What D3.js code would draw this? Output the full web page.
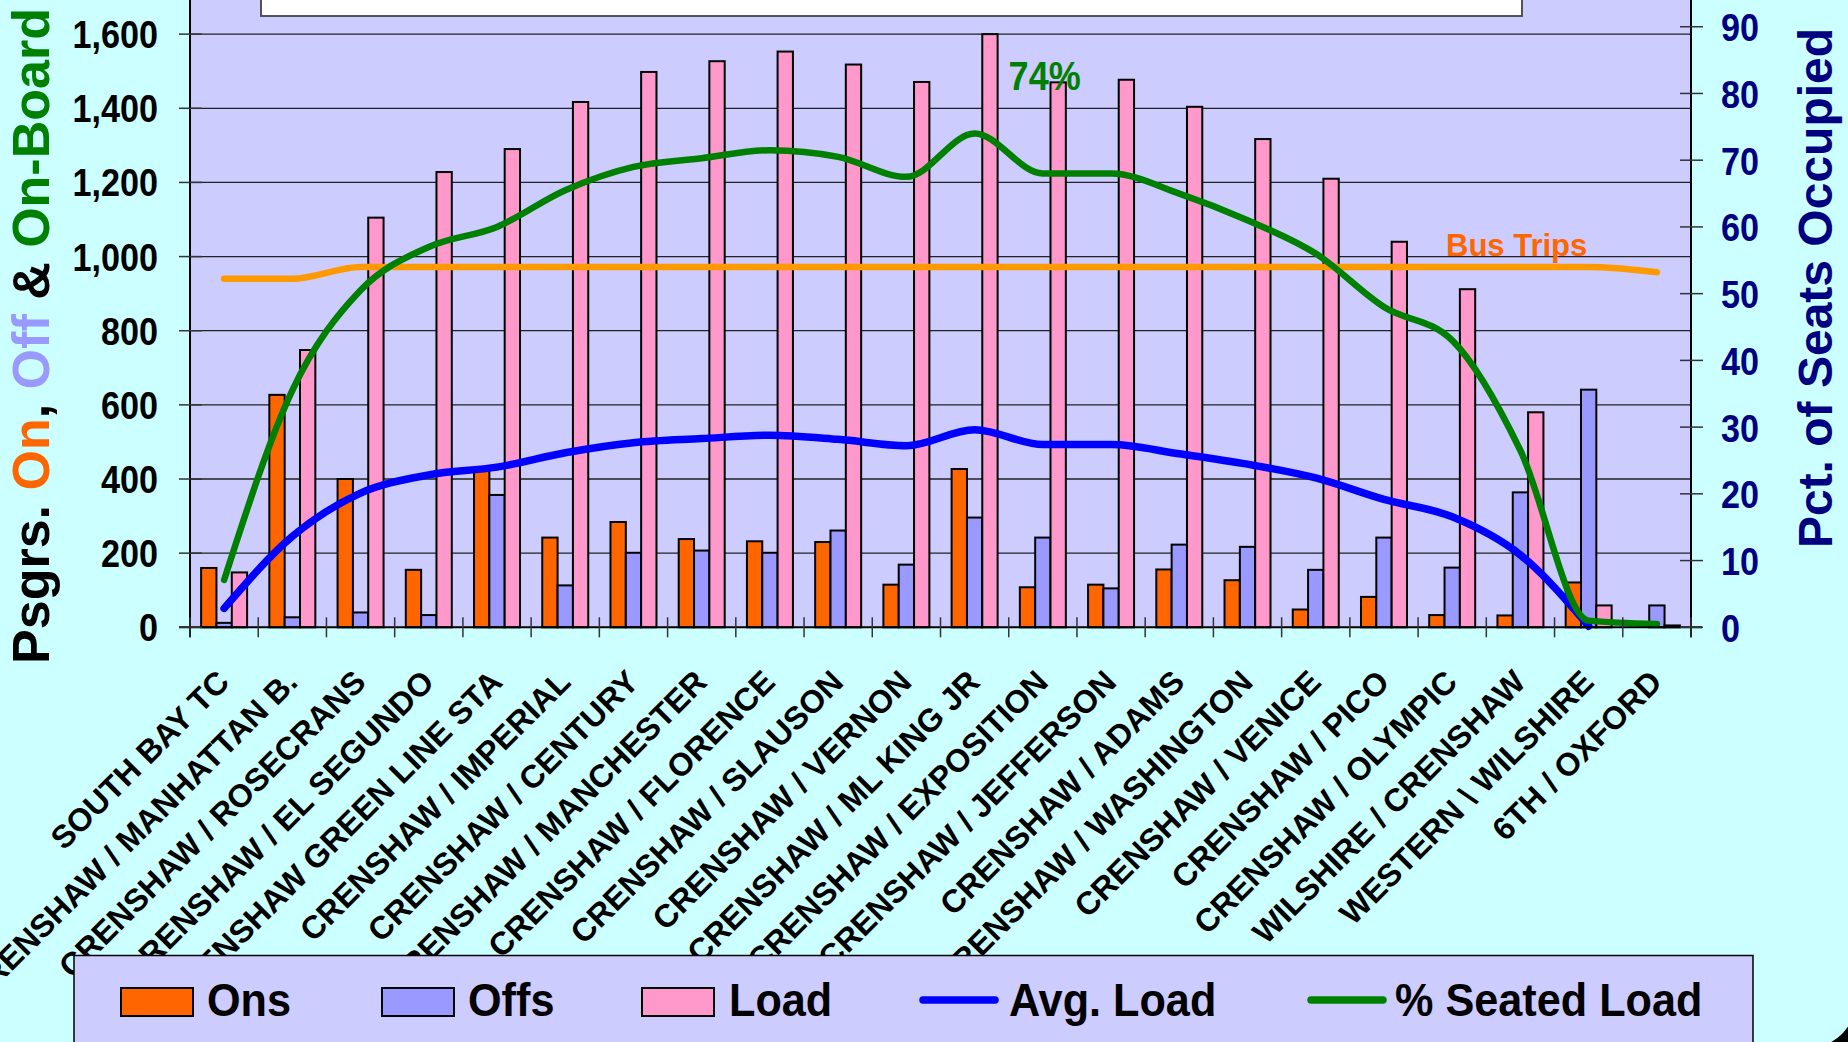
<!DOCTYPE html>
<html>
<head>
<meta charset="utf-8">
<script src="https://cdn.jsdelivr.net/npm/d3@7/dist/d3.min.js"></script>
<style>
  html, body { margin: 0; padding: 0; background: #000; overflow: hidden; }
  svg { display: block; }
  text { font-family: "Liberation Sans", Arial, sans-serif; font-weight: bold; }
</style>
</head>
<body>
<svg id="chart" width="1848" height="1042"></svg>
<script>
// ---------------- DATA ----------------
const categories = [
  "SOUTH BAY TC", "CRENSHAW / MANHATTAN B.", "CRENSHAW / ROSECRANS", "CRENSHAW / EL SEGUNDO",
  "CRENSHAW GREEN LINE STA", "CRENSHAW / IMPERIAL", "CRENSHAW / CENTURY", "CRENSHAW / MANCHESTER",
  "CRENSHAW / FLORENCE", "CRENSHAW / SLAUSON", "CRENSHAW / VERNON", "CRENSHAW / ML KING JR",
  "CRENSHAW / EXPOSITION", "CRENSHAW / JEFFERSON", "CRENSHAW / ADAMS", "CRENSHAW / WASHINGTON",
  "CRENSHAW / VENICE", "CRENSHAW / PICO", "CRENSHAW / OLYMPIC", "WILSHIRE / CRENSHAW",
  "WESTERN \\ WILSHIRE", "6TH / OXFORD"
];
const ons  = [160, 627, 400, 155, 430, 242, 284, 238, 232, 230, 115, 427, 108, 115, 156, 127, 48, 82, 33, 32, 121, 0];
const offs = [12, 27, 40, 33, 357, 113, 201, 207, 201, 261, 169, 296, 242, 105, 223, 217, 155, 242, 161, 364, 641, 59];
const load = [148, 748, 1105, 1228, 1290, 1417, 1498, 1527, 1553, 1518, 1471, 1600, 1470, 1477, 1404, 1317, 1210, 1040, 912, 580, 59, 5];
const avgLoad = [51, 245, 362, 411, 432, 471, 498, 509, 518, 507, 490, 533, 493, 493, 468, 440, 403, 345, 298, 195, 3];
const pctSeated = [7.1, 35.5, 50.5, 57, 60, 65.5, 69, 70.3, 71.5, 70.5, 67.5, 74, 68, 68, 65, 61, 56, 48, 43, 26.5, 1, 0.5];
const busTrips = [940, 940, 972, 972, 972, 972, 972, 972, 972, 972, 972, 972, 972, 972, 972, 972, 972, 972, 972, 972, 972, 958];
const leftTicks = [0, 200, 400, 600, 800, 1000, 1200, 1400, 1600];
const rightTicks = [0, 10, 20, 30, 40, 50, 60, 70, 80, 90];
const peakLabel = "74%";

// ---------------- LAYOUT ----------------
const W = 1848, H = 1042;
const plot = { left: 190, right: 1691, top: -40, bottom: 627.3 };
const C = {
  chartBg: "#CCFFFF", plotBg: "#CCCCFF", ons: "#FF6600", offs: "#9999FF", load: "#FF99CC",
  avg: "#0000FF", pct: "#008000", bus: "#FF9900", busText: "#FF6600", navy: "#000080"
};
const condense = 0.9;

const svg = d3.select("#chart");

// chart background with rounded bottom-right corner
svg.append("rect").attr("x", 0).attr("y", 0).attr("width", W).attr("height", H).attr("fill", "#000");
svg.append("rect").attr("x", -80).attr("y", -80).attr("width", 1856 + 80).attr("height", 1048 + 80)
  .attr("rx", 48).attr("ry", 48).attr("fill", C.chartBg);

// scales
const x = d3.scaleBand().domain(categories).range([plot.left, plot.right]).paddingInner(0).paddingOuter(0);
const bw = x.bandwidth();
const xs = d3.scaleBand().domain(["ons", "offs", "load"]).range([bw * 0.163, bw * 0.837]).padding(0);
const yL = d3.scaleLinear().domain([0, 1800]).range([plot.bottom, plot.top]);
const yR = d3.scaleLinear().domain([0, 100]).range([plot.bottom, plot.top]);
const cx = i => x(categories[i]) + bw / 2;

// plot background
svg.append("rect").attr("x", plot.left).attr("y", plot.top)
  .attr("width", plot.right - plot.left).attr("height", plot.bottom - plot.top)
  .attr("fill", C.plotBg);

// gridlines
svg.append("g").selectAll("line").data(leftTicks.filter(d => d > 0)).join("line")
  .attr("x1", plot.left).attr("x2", plot.right)
  .attr("y1", d => yL(d)).attr("y2", d => yL(d))
  .attr("stroke", "#222").attr("stroke-width", 1.3);

// bars
const series = [
  { key: "ons", values: ons, color: C.ons },
  { key: "offs", values: offs, color: C.offs },
  { key: "load", values: load, color: C.load }
];
const barG = svg.append("g");
series.forEach(s => {
  barG.selectAll("rect." + s.key).data(s.values).join("rect")
    .attr("class", s.key)
    .attr("x", (d, i) => x(categories[i]) + xs(s.key))
    .attr("width", xs.bandwidth())
    .attr("y", d => yL(d))
    .attr("height", d => Math.max(0, yL(0) - yL(d)))
    .attr("fill", s.color)
    .attr("stroke", "#000").attr("stroke-width", 2);
});

// lines
const busLine = d3.line().x((d, i) => cx(i)).y(d => yL(d)).curve(d3.curveMonotoneX);
svg.append("path").datum(busTrips).attr("d", busLine)
  .attr("fill", "none").attr("stroke", C.bus).attr("stroke-width", 6.5)
  .attr("stroke-linecap", "round").attr("stroke-linejoin", "round");

const avgLine = d3.line().x((d, i) => cx(i)).y(d => yL(d)).curve(d3.curveMonotoneX);
svg.append("path").datum(avgLoad).attr("d", avgLine)
  .attr("fill", "none").attr("stroke", C.avg).attr("stroke-width", 7.5)
  .attr("stroke-linecap", "round").attr("stroke-linejoin", "round");

const pctLine = d3.line().x((d, i) => cx(i)).y(d => yR(d)).curve(d3.curveMonotoneX);
svg.append("path").datum(pctSeated).attr("d", pctLine)
  .attr("fill", "none").attr("stroke", C.pct).attr("stroke-width", 6.5)
  .attr("stroke-linecap", "round").attr("stroke-linejoin", "round");

// axes lines
svg.append("line").attr("x1", plot.left).attr("x2", plot.left).attr("y1", plot.top).attr("y2", plot.bottom + 10)
  .attr("stroke", "#000").attr("stroke-width", 2);
svg.append("line").attr("x1", plot.right).attr("x2", plot.right).attr("y1", plot.top).attr("y2", plot.bottom + 10)
  .attr("stroke", "#000").attr("stroke-width", 2);
svg.append("line").attr("x1", plot.left - 11).attr("x2", plot.right + 11).attr("y1", plot.bottom).attr("y2", plot.bottom)
  .attr("stroke", "#000").attr("stroke-width", 2);

// left ticks + labels
const lt = svg.append("g");
lt.selectAll("line").data(leftTicks).join("line")
  .attr("x1", plot.left - 11).attr("x2", plot.left + 12)
  .attr("y1", d => yL(d)).attr("y2", d => yL(d))
  .attr("stroke", "#333").attr("stroke-width", 1.5);
lt.selectAll("text").data(leftTicks).join("text")
  .attr("transform", d => `translate(158,${yL(d) + 14}) scale(${condense},1)`)
  .attr("text-anchor", "end").attr("font-size", 38).attr("fill", "#000")
  .text(d => d3.format(",")(d));

// right ticks + labels
const rt = svg.append("g");
rt.selectAll("line").data(rightTicks).join("line")
  .attr("x1", plot.right - 11).attr("x2", plot.right + 12)
  .attr("y1", d => yR(d)).attr("y2", d => yR(d))
  .attr("stroke", "#333").attr("stroke-width", 1.5);
rt.selectAll("text").data(rightTicks).join("text")
  .attr("transform", d => `translate(1721,${yR(d) + 14.5}) scale(${condense},1)`)
  .attr("text-anchor", "start").attr("font-size", 38).attr("fill", C.navy)
  .text(d => d);

// category ticks
svg.append("g").selectAll("line").data(d3.range(categories.length + 1)).join("line")
  .attr("x1", i => plot.left + i * bw).attr("x2", i => plot.left + i * bw)
  .attr("y1", plot.bottom - 10).attr("y2", plot.bottom + 10)
  .attr("stroke", "#333").attr("stroke-width", 1.5);

// category labels
svg.append("g").selectAll("text").data(categories).join("text")
  .attr("transform", (d, i) => `translate(${cx(i) + 7},684) rotate(-45)`)
  .attr("text-anchor", "end").attr("font-size", 32).attr("fill", "#000")
  .text(d => d);

// annotations
const iPeak = pctSeated.indexOf(d3.max(pctSeated));
svg.append("text")
  .attr("transform", `translate(${cx(iPeak) + 34},90) scale(${condense},1)`)
  .attr("font-size", 40).attr("fill", C.pct).text(peakLabel);
svg.append("text").attr("x", 1446).attr("y", yL(busTrips[20]) - 11)
  .attr("font-size", 31).attr("fill", C.busText).text("Bus Trips");

// axis titles
const lTitle = svg.append("text")
  .attr("transform", "translate(49,336) rotate(-90)")
  .attr("text-anchor", "middle").attr("font-size", 52);
[["Psgrs. ", "#000"], ["On", C.ons], [", ", "#000"], ["Off", C.offs], [" & ", "#000"], ["On-Board", C.pct]]
  .forEach(([t, c]) => lTitle.append("tspan").attr("fill", c).text(t));

svg.append("text")
  .attr("transform", "translate(1832,288) rotate(-90)")
  .attr("text-anchor", "middle").attr("font-size", 48).attr("fill", C.navy)
  .text("Pct. of Seats Occupied");

// title box (partially visible at top)
svg.append("rect").attr("x", 261).attr("y", -30).attr("width", 1261).attr("height", 46)
  .attr("fill", "#fff").attr("stroke", "#444").attr("stroke-width", 1.8);

// legend
const lg = svg.append("g");
lg.append("rect").attr("x", 74).attr("y", 955.5).attr("width", 1753 - 74).attr("height", 120)
  .attr("fill", C.plotBg).attr("stroke", "#000").attr("stroke-width", 1.5);
const legendItems = [
  { label: "Ons", type: "box", color: C.ons, sx: 121, tx: 207 },
  { label: "Offs", type: "box", color: C.offs, sx: 382, tx: 468 },
  { label: "Load", type: "box", color: C.load, sx: 642, tx: 729 },
  { label: "Avg. Load", type: "line", color: C.avg, sx: 923, tx: 1009 },
  { label: "% Seated Load", type: "line", color: C.pct, sx: 1311, tx: 1395 }
];
legendItems.forEach(it => {
  if (it.type === "box") {
    lg.append("rect").attr("x", it.sx).attr("y", 988).attr("width", 72).attr("height", 28)
      .attr("fill", it.color).attr("stroke", "#000").attr("stroke-width", 2);
  } else {
    lg.append("line").attr("x1", it.sx).attr("x2", it.sx + 72).attr("y1", 1000).attr("y2", 1000)
      .attr("stroke", it.color).attr("stroke-width", 7.5).attr("stroke-linecap", "round");
  }
  lg.append("text").attr("transform", `translate(${it.tx},1016) scale(0.92,1)`)
    .attr("font-size", 47).attr("fill", "#000").text(it.label);
});
</script>
</body>
</html>
